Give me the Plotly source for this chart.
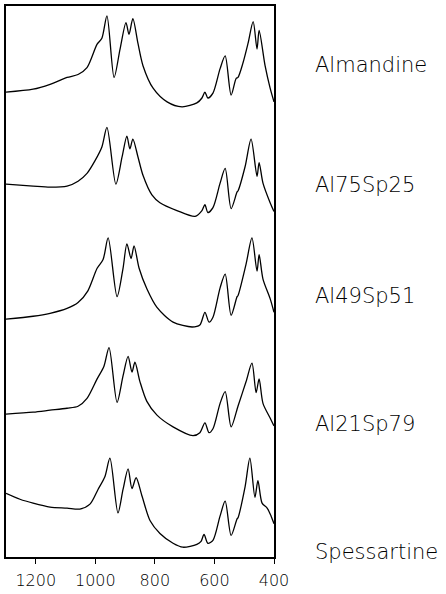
import plotly.graph_objects as go

# Wavenumbers (cm-1) and absorbance (arbitrary, stacked)
alm_wn = [1300, 1209, 1152, 1095, 1058, 1028, 994, 978, 961, 937, 917, 897, 887, 874, 857, 840, 806, 759, 709, 659, 642, 632, 622, 605, 581, 564, 544, 527, 521, 504, 487, 470, 457, 450, 430, 413, 400]
alm_ab = [475, 478, 483, 490, 493, 500, 524, 530, 553, 490, 519, 546, 534, 550, 525, 502, 479, 465, 460, 464, 469, 475, 469, 474, 499, 512, 472, 489, 490, 505, 525, 547, 519, 538, 502, 479, 465]

a75_wn = [1300, 1209, 1152, 1095, 1058, 1028, 1001, 978, 961, 931, 910, 894, 884, 874, 857, 840, 810, 783, 726, 665, 642, 632, 622, 605, 581, 564, 544, 524, 521, 497, 477, 457, 450, 437, 413, 400]
a75_ab = [381, 379, 378, 379, 384, 392, 405, 419, 439, 381, 409, 430, 417, 427, 409, 390, 370, 362, 354, 348, 354, 360, 352, 357, 382, 397, 356, 373, 374, 399, 427, 389, 403, 382, 362, 353]

a49_wn = [1300, 1209, 1152, 1095, 1058, 1025, 994, 974, 957, 927, 907, 894, 880, 870, 853, 827, 793, 739, 675, 649, 632, 618, 605, 581, 564, 544, 524, 521, 494, 474, 457, 450, 437, 413, 400]
a49_ab = [243, 246, 249, 254, 260, 272, 295, 304, 326, 266, 295, 320, 305, 318, 295, 274, 255, 240, 235, 237, 250, 240, 245, 275, 289, 247, 266, 267, 299, 326, 292, 309, 284, 264, 250]

a21_wn = [1300, 1209, 1152, 1095, 1058, 1028, 994, 971, 954, 927, 907, 890, 877, 867, 850, 827, 793, 739, 672, 649, 632, 618, 605, 581, 564, 544, 524, 521, 494, 474, 460, 450, 437, 413, 400]
a21_ab = [146, 148, 150, 152, 154, 162, 182, 195, 214, 158, 185, 205, 189, 199, 179, 159, 145, 133, 124, 127, 137, 127, 131, 157, 169, 133, 151, 154, 179, 198, 168, 182, 157, 142, 134]

sps_wn = [1300, 1253, 1209, 1152, 1095, 1052, 1018, 991, 968, 951, 924, 907, 890, 877, 863, 843, 816, 783, 739, 706, 659, 645, 635, 622, 605, 581, 564, 544, 524, 521, 497, 481, 464, 454, 440, 423, 410, 400]
sps_ab = [65, 59, 55, 51, 50, 49, 54, 69, 82, 101, 45, 69, 90, 70, 81, 62, 37, 24, 14, 10, 13, 16, 23, 14, 17, 42, 57, 22, 39, 40, 72, 101, 61, 78, 55, 50, 42, 34]

names = ["Almandine", "Al75Sp25", "Al49Sp51", "Al21Sp79", "Spessartine"]
label_y = [503, 380, 267, 136, 5]

tick_vals = [1200, 1000, 800, 600, 400]
tick_text = ["1200", "1000", "800", "600", "400"]

series = [(alm_wn, alm_ab), (a75_wn, a75_ab), (a49_wn, a49_ab), (a21_wn, a21_ab), (sps_wn, sps_ab)]

FONT = "DejaVu Sans"

fig = go.Figure()
for (wn, ab), nm in zip(series, names):
    fig.add_trace(go.Scatter(
        x=wn, y=ab, mode="lines", name=nm,
        line=dict(color="black", width=1.3, shape="spline", smoothing=0.8),
        showlegend=False, hoverinfo="skip"))

for nm, ly in zip(names, label_y):
    fig.add_annotation(x=1.1455, xref="paper", y=ly, yref="y", text=nm,
                       showarrow=False, xanchor="left", yanchor="middle",
                       font=dict(family=FONT, size=21, color="black", weight=200))

fig.update_xaxes(range=[1300, 400], tickvals=tick_vals, ticktext=tick_text,
                 showgrid=False, zeroline=False, showline=True, mirror=True,
                 linecolor="black", linewidth=1.5, ticks="outside", ticklen=5,
                 tickwidth=1.2, tickcolor="black", ticklabelstandoff=3,
                 tickfont=dict(family=FONT, size=16, color="black", weight=200))
fig.update_yaxes(range=[0, 563], showgrid=False, zeroline=False, showline=True,
                 mirror=True, linecolor="black", linewidth=1.5, showticklabels=False,
                 ticks="")
fig.update_layout(width=446, height=594, margin=dict(l=6, r=172, t=4, b=27),
                  plot_bgcolor="white", paper_bgcolor="white")
fig.write_html("out.html", config={"displayModeBar": False},
               post_script="document.body.style.margin='0';")
